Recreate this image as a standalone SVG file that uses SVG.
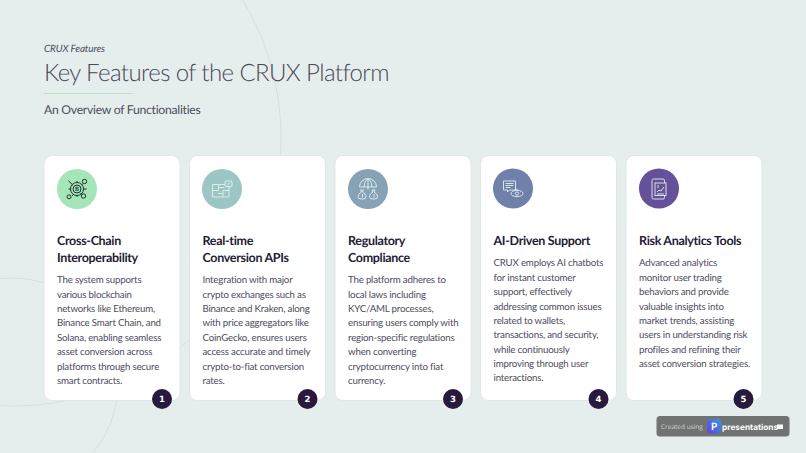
<svg xmlns="http://www.w3.org/2000/svg" width="806" height="453" viewBox="0 0 806 453">
<style>
text{font-family:"Lato","Liberation Sans",sans-serif;text-rendering:geometricPrecision}
.card{fill:#fff;stroke:#dfe8e6;stroke-width:1}
.h{font-size:12.500px;font-weight:700;fill:#241b35;letter-spacing:-.32px}
.b{font-size:9.700px;fill:#4e4c5c;letter-spacing:-.19px}
.n{font-size:8.500px;font-weight:700;fill:#fff;text-anchor:middle;font-family:"DejaVu Sans",sans-serif}
.bg{fill:none;stroke:#d5e0de;stroke-width:1}
.iw{fill:none;stroke:#e6f0ee;stroke-width:.9}
.ik{fill:none;stroke:#1d3327;stroke-width:1}
</style>
<defs>
<linearGradient id="pg" x1="0" y1="1" x2="1" y2="0"><stop offset="0" stop-color="#6a3fd8"/><stop offset="1" stop-color="#2f9be8"/></linearGradient>
</defs>
<rect width="806" height="453" fill="#e5eeed"/>
<circle class="bg" cx="13" cy="138" r="268"/>
<circle class="bg" cx="12" cy="384" r="106"/>
<g id="header">
<text x="44" y="52" font-size="10" font-style="italic" fill="#4e4c5c" letter-spacing="-.15">CRUX Features</text>
<text x="44" y="81" font-size="24" font-weight="300" fill="#4a4858" letter-spacing="-.6">Key Features of the CRUX Platform</text>
<rect x="44" y="93" width="88.500" height="1" fill="#b5e3c4"/>
<text x="44" y="114" font-size="12.200" fill="#4e4c5c" letter-spacing="-.27">An Overview of Functionalities</text>
</g>
<g id="card1">
<rect class="card" x="44" y="155.500" width="136" height="245" rx="8"/>
<circle cx="77" cy="189" r="20" fill="#a6e5ba"/>
<g class="ik"><circle cx="77" cy="189" r="6.500"/><circle cx="77" cy="189" r="4"/><path d="M68.300 180.700l4.700 4.500M83 183.500l-1.500 1.500M68.500 189h2M83.500 189h3M72 196l2-2M82 194.500l-1.500-1.500M77 181v1M77 196v1"/><circle cx="84.500" cy="181.500" r="2.200"/><circle cx="69" cy="196.800" r="2"/><circle cx="83.500" cy="196" r="2.200"/></g>
<text x="77" y="191.200" font-size="6" font-weight="700" fill="#1d3327" text-anchor="middle">B</text>
<text class="h"><tspan x="57" y="245">Cross-Chain</tspan><tspan x="57" y="262">Interoperability</tspan></text>
<text class="b"><tspan x="57" y="283">The system supports</tspan><tspan x="57" y="297.500">various blockchain</tspan><tspan x="57" y="312">networks like Ethereum,</tspan><tspan x="57" y="326">Binance Smart Chain, and</tspan><tspan x="57" y="340.500">Solana, enabling seamless</tspan><tspan x="57" y="355">asset conversion across</tspan><tspan x="57" y="369.500">platforms through secure</tspan><tspan x="57" y="383.500">smart contracts.</tspan></text>
<circle cx="162" cy="399" r="10" fill="#271a3c"/><text class="n" x="162" y="402">1</text>
</g>
<g id="card2">
<rect class="card" x="189.500" y="155.500" width="136" height="245" rx="8"/>
<circle cx="222" cy="189" r="20" fill="#9bc6c4"/>
<g class="iw"><path d="M212.500 184.500h16.500v12.500h-16.500zM212.500 190.500h6v-3h6M229 190.500h-6v3h-5M218.500 184.500v3M223 197v-3.500"/><rect x="225" y="181" width="7" height="5.500" rx="1" fill="#9bc6c4"/><path d="M227 183.500l1 1 2-2"/></g>
<text class="h"><tspan x="202.500" y="245">Real-time</tspan><tspan x="202.500" y="262">Conversion APIs</tspan></text>
<text class="b"><tspan x="202.500" y="283">Integration with major</tspan><tspan x="202.500" y="297.500">crypto exchanges such as</tspan><tspan x="202.500" y="312">Binance and Kraken, along</tspan><tspan x="202.500" y="326">with price aggregators like</tspan><tspan x="202.500" y="340.500">CoinGecko, ensures users</tspan><tspan x="202.500" y="355">access accurate and timely</tspan><tspan x="202.500" y="369.500">crypto-to-fiat conversion</tspan><tspan x="202.500" y="383.500">rates.</tspan></text>
<circle cx="307.500" cy="399" r="10" fill="#271a3c"/><text class="n" x="307.500" y="402">2</text>
</g>
<g id="card3">
<rect class="card" x="335" y="155.500" width="136" height="245" rx="8"/>
<circle cx="368" cy="189" r="20" fill="#86a3b6"/>
<g class="iw"><path d="M359.500 187a8.500 8.500 0 0 1 17 0zM368 178.500v11M364 187q0-6 4-8.500q4 2.500 4 8.500"/><path d="M360.500 190l1 2q-3.500 2-3.500 4.500q0 2.500 3 2.500h2q3 0 3-2.500q0-2.500-3.500-4.500l1-2zM372 190l1 2q-3.500 2-3.500 4.500q0 2.500 3 2.500h2q3 0 3-2.500q0-2.500-3.500-4.500l1-2zM362.500 194v3.500M374 194v3.500"/></g>
<text class="h"><tspan x="348" y="245">Regulatory</tspan><tspan x="348" y="262">Compliance</tspan></text>
<text class="b"><tspan x="348" y="283">The platform adheres to</tspan><tspan x="348" y="297.500">local laws including</tspan><tspan x="348" y="312">KYC/AML processes,</tspan><tspan x="348" y="326">ensuring users comply with</tspan><tspan x="348" y="340.500">region-specific regulations</tspan><tspan x="348" y="355">when converting</tspan><tspan x="348" y="369.500">cryptocurrency into fiat</tspan><tspan x="348" y="383.500">currency.</tspan></text>
<circle cx="453" cy="399" r="10" fill="#271a3c"/><text class="n" x="453" y="402">3</text>
</g>
<g id="card4">
<rect class="card" x="480.500" y="155.500" width="136" height="245" rx="8"/>
<circle cx="513" cy="188.500" r="20" fill="#6f81aa"/>
<g class="iw"><path d="M503.500 181h12v9h-6l-2 2v-2h-4zM505.500 183.500h8M505.500 185.500h8M505.500 187.500h5"/><ellipse cx="517" cy="193.500" rx="6" ry="3.200"/><circle cx="517" cy="193.500" r="1.700"/><path d="M517 188.500v1.500"/></g>
<text class="h"><tspan x="493.500" y="245">AI-Driven Support</tspan></text>
<text class="b"><tspan x="493.500" y="266">CRUX employs AI chatbots</tspan><tspan x="493.500" y="280.500">for instant customer</tspan><tspan x="493.500" y="295">support, effectively</tspan><tspan x="493.500" y="309.500">addressing common issues</tspan><tspan x="493.500" y="323.500">related to wallets,</tspan><tspan x="493.500" y="338">transactions, and security,</tspan><tspan x="493.500" y="352.500">while continuously</tspan><tspan x="493.500" y="367">improving through user</tspan><tspan x="493.500" y="381">interactions.</tspan></text>
<circle cx="598.500" cy="399" r="10" fill="#271a3c"/><text class="n" x="598.500" y="402">4</text>
</g>
<g id="card5">
<rect class="card" x="626" y="155.500" width="136" height="245" rx="8"/>
<circle cx="659" cy="188.500" r="20" fill="#65509a"/>
<g class="iw"><rect x="652" y="179" width="12.500" height="20" rx="1.500"/><rect x="655" y="183" width="11" height="12.500" fill="#65509a"/><path d="M657 192l2-2 2 1 3-4M657 194h7M658 185v3"/></g>
<text class="h"><tspan x="639" y="245">Risk Analytics Tools</tspan></text>
<text class="b"><tspan x="639" y="266">Advanced analytics</tspan><tspan x="639" y="280.500">monitor user trading</tspan><tspan x="639" y="295">behaviors and provide</tspan><tspan x="639" y="309.500">valuable insights into</tspan><tspan x="639" y="323.500">market trends, assisting</tspan><tspan x="639" y="338">users in understanding risk</tspan><tspan x="639" y="352.500">profiles and refining their</tspan><tspan x="639" y="367">asset conversion strategies.</tspan></text>
<circle cx="743.500" cy="399" r="10" fill="#271a3c"/><text class="n" x="743.500" y="402">5</text>
</g>
<g id="badge">
<rect x="656.500" y="416" width="133" height="20.500" rx="3.500" fill="#6f7371"/>
<text x="661" y="429" font-size="6.500" fill="#d0d3d2" style="font-family:'Open Sans',sans-serif">Created using</text>
<rect x="707" y="419" width="14" height="14.500" rx="4" fill="url(#pg)"/>
<text x="714" y="430" font-size="10" font-weight="700" fill="#fff" text-anchor="middle">P</text>
<text x="722" y="429.500" font-size="8.300" font-weight="700" fill="#fff" style="font-family:Inter,sans-serif">presentations</text>
<rect x="777" y="424.500" width="6" height="4.500" fill="#fff"/>
</g>
</svg>
